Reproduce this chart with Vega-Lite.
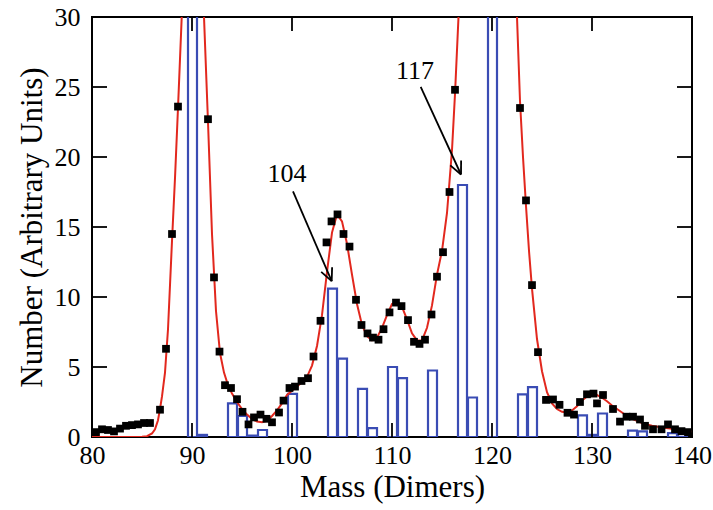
{
  "$schema": "https://vega.github.io/schema/vega-lite/v6.json",
  "width": 600,
  "height": 420,
  "autosize": {"type": "none"},
  "padding": {"left": 92, "top": 17, "right": 21, "bottom": 73},
  "background": "white",
  "config": {
    "view": {"stroke": "black", "strokeWidth": 2},
    "axis": {
      "grid": false, "domain": false, "ticks": false, "labelFont": "Liberation Serif", "titleFont": "Liberation Serif",
      "labelColor": "black", "titleColor": "black",
      "labelFontSize": 26, "titleFontSize": 31, "titleFontWeight": "normal", "labelFlush": false,
      "labelOverlap": false
    }
  },
  "datasets": {
    "bars": [
      {"m": 90, "lo": 89.5, "hi": 90.5, "n": 60},
      {"m": 91, "lo": 90.5, "hi": 91.5, "n": 0.15},
      {"m": 94, "lo": 93.5, "hi": 94.5, "n": 2.4},
      {"m": 95, "lo": 94.5, "hi": 95.5, "n": 1.5},
      {"m": 96, "lo": 95.5, "hi": 96.5, "n": 0.1},
      {"m": 97, "lo": 96.5, "hi": 97.5, "n": 0.5},
      {"m": 100, "lo": 99.5, "hi": 100.5, "n": 3.08},
      {"m": 104, "lo": 103.5, "hi": 104.5, "n": 10.6},
      {"m": 105, "lo": 104.5, "hi": 105.5, "n": 5.6},
      {"m": 107, "lo": 106.5, "hi": 107.5, "n": 3.44},
      {"m": 108, "lo": 107.5, "hi": 108.5, "n": 0.63},
      {"m": 110, "lo": 109.5, "hi": 110.5, "n": 5.0},
      {"m": 111, "lo": 110.5, "hi": 111.5, "n": 4.2},
      {"m": 114, "lo": 113.5, "hi": 114.5, "n": 4.75},
      {"m": 117, "lo": 116.5, "hi": 117.5, "n": 18.0},
      {"m": 118, "lo": 117.5, "hi": 118.5, "n": 2.82},
      {"m": 120, "lo": 119.5, "hi": 120.5, "n": 60},
      {"m": 123, "lo": 122.5, "hi": 123.5, "n": 3.04},
      {"m": 124, "lo": 123.5, "hi": 124.5, "n": 3.56},
      {"m": 129, "lo": 128.5, "hi": 129.5, "n": 1.54},
      {"m": 130, "lo": 129.5, "hi": 130.5, "n": 0.15},
      {"m": 131, "lo": 130.5, "hi": 131.5, "n": 1.68},
      {"m": 134, "lo": 133.5, "hi": 134.5, "n": 0.46},
      {"m": 135, "lo": 134.5, "hi": 135.5, "n": 0.4},
      {"m": 138, "lo": 137.5, "hi": 138.5, "n": 0.28},
      {"m": 139, "lo": 138.5, "hi": 139.5, "n": 0.2}
    ],
    "fit": [
      {"m": 80, "v": 0}, {"m": 84, "v": 0}, {"m": 85, "v": 0.01}, {"m": 85.5, "v": 0.06},
      {"m": 86, "v": 0.25}, {"m": 86.3, "v": 0.55}, {"m": 86.6, "v": 1.2}, {"m": 86.8, "v": 2.0},
      {"m": 87, "v": 2.9}, {"m": 87.3, "v": 4.6}, {"m": 87.6, "v": 7.7}, {"m": 88, "v": 14},
      {"m": 88.3, "v": 18.5}, {"m": 88.6, "v": 23.5}, {"m": 89, "v": 30.5}, {"m": 89.3, "v": 36},
      {"m": 89.8, "v": 42}, {"m": 90.3, "v": 40}, {"m": 90.8, "v": 34}, {"m": 91.2, "v": 30},
      {"m": 91.6, "v": 22.5}, {"m": 92, "v": 14.5}, {"m": 92.4, "v": 9.0}, {"m": 92.8, "v": 6.0},
      {"m": 93.2, "v": 4.6}, {"m": 93.6, "v": 3.7}, {"m": 94, "v": 3.1}, {"m": 94.5, "v": 2.5},
      {"m": 95, "v": 2.0}, {"m": 95.5, "v": 1.6}, {"m": 96, "v": 1.3}, {"m": 96.5, "v": 1.1},
      {"m": 97, "v": 1.05}, {"m": 97.5, "v": 1.15}, {"m": 98, "v": 1.5}, {"m": 98.5, "v": 1.9},
      {"m": 99, "v": 2.4}, {"m": 99.5, "v": 3.0}, {"m": 100, "v": 3.3}, {"m": 100.5, "v": 3.6},
      {"m": 101, "v": 3.9}, {"m": 101.5, "v": 4.3}, {"m": 102, "v": 5.1}, {"m": 102.5, "v": 6.5},
      {"m": 103, "v": 8.7}, {"m": 103.5, "v": 11.8}, {"m": 104, "v": 14.6}, {"m": 104.5, "v": 15.9},
      {"m": 105, "v": 15.4}, {"m": 105.5, "v": 13.8}, {"m": 106, "v": 11.6}, {"m": 106.5, "v": 9.5},
      {"m": 107, "v": 8.0}, {"m": 107.5, "v": 7.2}, {"m": 108, "v": 6.9}, {"m": 108.5, "v": 7.1},
      {"m": 109, "v": 7.8}, {"m": 109.5, "v": 8.7}, {"m": 110, "v": 9.5}, {"m": 110.5, "v": 9.7},
      {"m": 111, "v": 9.3}, {"m": 111.5, "v": 8.4}, {"m": 112, "v": 7.4}, {"m": 112.5, "v": 6.9},
      {"m": 113, "v": 6.9}, {"m": 113.5, "v": 7.8}, {"m": 114, "v": 9.4}, {"m": 114.5, "v": 11.6},
      {"m": 115, "v": 13.3}, {"m": 115.5, "v": 16}, {"m": 116, "v": 20.5}, {"m": 116.3, "v": 24.5},
      {"m": 116.65, "v": 30}, {"m": 117, "v": 36}, {"m": 118, "v": 45}, {"m": 120, "v": 50},
      {"m": 122, "v": 36}, {"m": 122.5, "v": 30}, {"m": 122.8, "v": 24}, {"m": 123.1, "v": 20},
      {"m": 123.4, "v": 16.5}, {"m": 123.7, "v": 13.3}, {"m": 124, "v": 10.6}, {"m": 124.5, "v": 7.0},
      {"m": 125, "v": 4.7}, {"m": 125.5, "v": 3.2}, {"m": 126, "v": 2.4}, {"m": 126.5, "v": 2.0},
      {"m": 127, "v": 1.8}, {"m": 127.5, "v": 1.75}, {"m": 128, "v": 1.9}, {"m": 128.5, "v": 2.2},
      {"m": 129, "v": 2.6}, {"m": 129.5, "v": 2.9}, {"m": 130, "v": 3.0}, {"m": 130.5, "v": 3.0},
      {"m": 131, "v": 2.8}, {"m": 131.5, "v": 2.55}, {"m": 132, "v": 2.25}, {"m": 132.5, "v": 2.0},
      {"m": 133, "v": 1.75}, {"m": 133.5, "v": 1.5}, {"m": 134, "v": 1.3}, {"m": 134.5, "v": 1.15},
      {"m": 135, "v": 1.0}, {"m": 135.5, "v": 0.9}, {"m": 136, "v": 0.8}, {"m": 137, "v": 0.68},
      {"m": 138, "v": 0.58}, {"m": 139, "v": 0.48}, {"m": 140, "v": 0.4}
    ],
    "points": [
      {"m": 80.4, "v": 0.35}, {"m": 81.0, "v": 0.55}, {"m": 81.6, "v": 0.5}, {"m": 82.2, "v": 0.4},
      {"m": 82.8, "v": 0.6}, {"m": 83.4, "v": 0.8}, {"m": 84.0, "v": 0.85}, {"m": 84.6, "v": 0.9},
      {"m": 85.2, "v": 1.0}, {"m": 85.8, "v": 1.0}, {"m": 86.8, "v": 1.95}, {"m": 87.4, "v": 6.3},
      {"m": 88.0, "v": 14.5}, {"m": 88.6, "v": 23.6},
      {"m": 91.6, "v": 22.7}, {"m": 92.2, "v": 11.4}, {"m": 92.75, "v": 6.1}, {"m": 93.3, "v": 3.7},
      {"m": 93.9, "v": 3.5}, {"m": 94.5, "v": 2.7}, {"m": 95.05, "v": 1.8}, {"m": 95.65, "v": 0.9},
      {"m": 96.2, "v": 1.4}, {"m": 96.85, "v": 1.6}, {"m": 97.45, "v": 1.3}, {"m": 98.0, "v": 1.05},
      {"m": 98.7, "v": 1.75}, {"m": 99.15, "v": 2.6}, {"m": 99.75, "v": 3.5}, {"m": 100.3, "v": 3.6},
      {"m": 100.95, "v": 4.0}, {"m": 101.6, "v": 4.2}, {"m": 102.15, "v": 5.75}, {"m": 102.85, "v": 8.3},
      {"m": 103.45, "v": 13.9}, {"m": 103.95, "v": 15.4}, {"m": 104.55, "v": 15.9}, {"m": 105.15, "v": 14.5},
      {"m": 105.75, "v": 13.6}, {"m": 106.4, "v": 9.8}, {"m": 106.95, "v": 8.0}, {"m": 107.55, "v": 7.4},
      {"m": 108.1, "v": 7.1}, {"m": 108.65, "v": 6.95}, {"m": 109.15, "v": 7.7}, {"m": 109.75, "v": 8.9},
      {"m": 110.4, "v": 9.6}, {"m": 110.95, "v": 9.35}, {"m": 111.6, "v": 8.35}, {"m": 112.2, "v": 6.8},
      {"m": 112.75, "v": 6.65}, {"m": 113.3, "v": 6.95}, {"m": 113.95, "v": 8.75}, {"m": 114.5, "v": 11.45},
      {"m": 115.1, "v": 13.2}, {"m": 115.75, "v": 17.5}, {"m": 116.3, "v": 24.8},
      {"m": 122.8, "v": 23.5}, {"m": 123.4, "v": 16.9}, {"m": 124.0, "v": 10.85}, {"m": 124.6, "v": 6.06},
      {"m": 125.4, "v": 2.65}, {"m": 126.1, "v": 2.68}, {"m": 126.75, "v": 2.3}, {"m": 127.55, "v": 1.73},
      {"m": 128.2, "v": 1.6}, {"m": 128.8, "v": 2.5}, {"m": 129.5, "v": 3.05}, {"m": 130.15, "v": 3.1},
      {"m": 130.5, "v": 2.4}, {"m": 131.1, "v": 3.0}, {"m": 132.1, "v": 2.0}, {"m": 132.8, "v": 1.1},
      {"m": 133.45, "v": 1.45}, {"m": 134.1, "v": 1.45}, {"m": 134.8, "v": 1.25}, {"m": 135.3, "v": 0.8},
      {"m": 136.1, "v": 0.55}, {"m": 136.95, "v": 0.55}, {"m": 137.6, "v": 0.9}, {"m": 138.3, "v": 0.55},
      {"m": 138.95, "v": 0.42}, {"m": 139.6, "v": 0.35}
    ],
    "labels": [
      {"m": 99.5, "v": 18.2, "t": "104"},
      {"m": 112.3, "v": 25.55, "t": "117"}
    ],
    "segments": [
      {"x": 100.1, "y": 17.54, "x2": 103.97, "y2": 11.13},
      {"x": 103.97, "y": 11.13, "x2": 104.01, "y2": 12.13},
      {"x": 103.97, "y": 11.13, "x2": 102.92, "y2": 11.79},
      {"x": 112.87, "y": 25.01, "x2": 116.9, "y2": 18.75},
      {"x": 116.9, "y": 18.75, "x2": 116.91, "y2": 19.75},
      {"x": 116.9, "y": 18.75, "x2": 115.83, "y2": 19.4},
      {"x": 90, "y": 0, "x2": 90, "y2": 1},
      {"x": 100, "y": 0, "x2": 100, "y2": 1},
      {"x": 110, "y": 0, "x2": 110, "y2": 1},
      {"x": 120, "y": 0, "x2": 120, "y2": 1},
      {"x": 130, "y": 0, "x2": 130, "y2": 1},
      {"x": 90, "y": 30, "x2": 90, "y2": 29},
      {"x": 100, "y": 30, "x2": 100, "y2": 29},
      {"x": 110, "y": 30, "x2": 110, "y2": 29},
      {"x": 120, "y": 30, "x2": 120, "y2": 29},
      {"x": 130, "y": 30, "x2": 130, "y2": 29},
      {"x": 80, "y": 5, "x2": 81.5, "y2": 5},
      {"x": 80, "y": 10, "x2": 81.5, "y2": 10},
      {"x": 80, "y": 15, "x2": 81.5, "y2": 15},
      {"x": 80, "y": 20, "x2": 81.5, "y2": 20},
      {"x": 80, "y": 25, "x2": 81.5, "y2": 25},
      {"x": 140, "y": 5, "x2": 138.5, "y2": 5},
      {"x": 140, "y": 10, "x2": 138.5, "y2": 10},
      {"x": 140, "y": 15, "x2": 138.5, "y2": 15},
      {"x": 140, "y": 20, "x2": 138.5, "y2": 20},
      {"x": 140, "y": 25, "x2": 138.5, "y2": 25}
    ]
  },
  "resolve": {"axis": {"x": "independent", "y": "independent"}},
  "layer": [
    {
      "data": {"name": "bars"},
      "mark": {"type": "bar", "clip": true, "fillOpacity": 0, "stroke": "#3a4cb4", "strokeWidth": 2.2},
      "encoding": {
        "x": {"field": "lo", "type": "quantitative", "bin": "binned",
              "scale": {"domain": [80, 140], "nice": false, "zero": false},
              "axis": {"orient": "bottom", "values": [80, 90, 100, 110, 120, 130, 140], "tickSize": 0,
                       "labelPadding": 5, "title": "Mass (Dimers)", "titlePadding": 4}},
        "x2": {"field": "hi"},
        "y": {"field": "n", "type": "quantitative",
              "scale": {"domain": [0, 30], "nice": false, "zero": true},
              "axis": {"orient": "left", "values": [0, 5, 10, 15, 20, 25, 30], "tickSize": 0,
                       "labelPadding": 12, "title": "Number (Arbitrary Units)", "titlePadding": 6}}
      }
    },
    {
      "data": {"name": "fit"},
      "mark": {"type": "line", "clip": true, "color": "#e2281e", "strokeWidth": 2},
      "encoding": {
        "x": {"field": "m", "type": "quantitative", "axis": null},
        "y": {"field": "v", "type": "quantitative", "axis": null}
      }
    },
    {
      "data": {"name": "points"},
      "mark": {"type": "point", "shape": "square", "filled": true, "color": "black", "size": 60, "opacity": 1, "clip": true},
      "encoding": {
        "x": {"field": "m", "type": "quantitative", "axis": null},
        "y": {"field": "v", "type": "quantitative", "axis": null}
      }
    },
    {
      "data": {"name": "segments"},
      "mark": {"type": "rule", "color": "black", "strokeWidth": 1.8},
      "encoding": {
        "x": {"field": "x", "type": "quantitative", "axis": null},
        "y": {"field": "y", "type": "quantitative", "axis": null},
        "x2": {"field": "x2"},
        "y2": {"field": "y2"}
      }
    },
    {
      "data": {"name": "labels"},
      "mark": {"type": "text", "font": "Liberation Serif", "fontSize": 26, "color": "black", "align": "center", "baseline": "alphabetic"},
      "encoding": {
        "x": {"field": "m", "type": "quantitative", "axis": null},
        "y": {"field": "v", "type": "quantitative", "axis": null},
        "text": {"field": "t"}
      }
    }
  ]
}
